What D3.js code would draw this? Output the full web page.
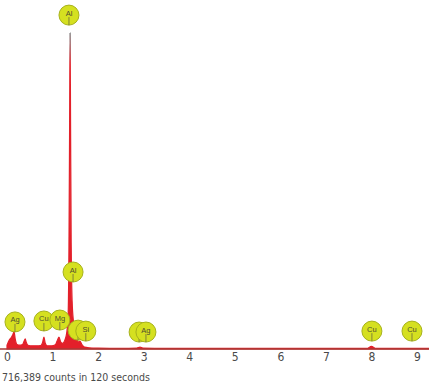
<!DOCTYPE html>
<html>
<head>
<meta charset="utf-8">
<script src="https://cdn.jsdelivr.net/npm/d3@7"></script>
<style>
  body { margin: 0; background: #fff; }
  svg { display: block; }
  .tick text { font-family: "DejaVu Sans", sans-serif; font-stretch: condensed; font-size: 12px; fill: #4a4a4a; }
  .note { font-family: "DejaVu Sans", sans-serif; font-stretch: condensed; font-size: 11px; fill: #4a4a4a; }
  .tag text { font-family: "Liberation Sans", Arial, sans-serif; font-size: 7.5px; fill: #4e4e30; }
</style>
</head>
<body>
<svg id="chart"></svg>
<script>
// spectrum: energy (keV) and relative counts (Al peak = 1000)
const energy = [0.00, 0.05, 0.10, 0.13, 0.155, 0.18, 0.22, 0.28, 0.34, 0.38, 0.40, 0.42, 0.46,
  0.55, 0.65, 0.74, 0.78, 0.81, 0.84, 0.88, 0.98, 1.06, 1.10, 1.14, 1.18, 1.22, 1.27, 1.31,
  1.34, 1.36, 1.375, 1.385, 1.395, 1.41, 1.43, 1.46, 1.50, 1.54, 1.57, 1.60, 1.64, 1.70, 1.80,
  2.0, 2.5, 2.85, 2.92, 2.98, 3.5, 5.0, 7.9, 8.0, 8.1, 9.3];
const counts = [12, 28, 38, 46, 55, 32, 14, 12, 14, 26, 32, 22, 12,
  10, 10, 11, 20, 38, 18, 10, 10, 13, 25, 38, 22, 18, 28, 50,
  100, 320, 720, 1000, 720, 320, 150, 85, 50, 30, 22, 25, 15, 6, 4,
  3, 2, 3, 6, 3, 2, 2, 2, 8, 2, 2];

// element tags: symbol, energy of the tag and the count level its stem points to
const tagNames = ["Al", "Al", "Ag", "Cu", "Mg", "", "Si", "", "Ag", "Cu", "Cu"];
const tagEnergy = [1.36, 1.45, 0.175, 0.81, 1.16, 1.56, 1.73, 2.90, 3.05, 8.01, 8.89];
const tagLevel = [1025, 212, 54, 57, 60, 28, 25, 22, 22, 25, 25];

const xTicks = [0, 1, 2, 3, 4, 5, 6, 7, 8, 9];
const note = "716,389 counts in 120 seconds";

const width = 429, height = 386;
const baseY = 349;

const svg = d3.select("#chart")
    .attr("width", width)
    .attr("height", height);

const x = d3.scaleLinear().domain([0, 9]).range([7, 417]);
const y = d3.scaleLinear().domain([0, 1000]).range([baseY, 33]);

const data = energy.map((e, i) => ({ e: e, c: counts[i] }));

// grey tip on the tall peak
const grad = svg.append("defs").append("linearGradient")
    .attr("id", "peakFill")
    .attr("gradientUnits", "userSpaceOnUse")
    .attr("x1", 0).attr("x2", 0)
    .attr("y1", y(1000)).attr("y2", y(900));
grad.append("stop").attr("offset", 0).attr("stop-color", "#6e6e6e");
grad.append("stop").attr("offset", 1).attr("stop-color", "#e3202a");

const area = d3.area()
    .x(d => x(d.e))
    .y0(baseY)
    .y1(d => y(d.c))
    .curve(d3.curveMonotoneX);

svg.append("path")
    .datum(data)
    .attr("d", area)
    .attr("fill", "url(#peakFill)")
    .attr("stroke", "url(#peakFill)")
    .attr("stroke-width", 1.2);

// baseline
svg.append("line")
    .attr("x1", 0).attr("x2", width)
    .attr("y1", baseY).attr("y2", baseY)
    .attr("stroke", "#a83a36")
    .attr("stroke-width", 1.5);

const xAxis = d3.axisBottom(x)
    .tickValues(xTicks)
    .tickFormat(d3.format("d"))
    .tickSize(0)
    .tickPadding(3);

const gx = svg.append("g")
    .attr("transform", `translate(0,${baseY})`)
    .call(xAxis);
gx.select(".domain").remove();

// element tags
const r = 10;
const tags = svg.selectAll(".tag")
    .data(tagNames.map((n, i) => ({ n: n, e: tagEnergy[i], lv: tagLevel[i] })))
    .enter().append("g")
    .attr("class", "tag")
    .attr("transform", d => `translate(${x(d.e)},${y(d.lv) - r})`);

tags.append("circle")
    .attr("r", r)
    .attr("fill", "#d5e020")
    .attr("stroke", "#a7b21c")
    .attr("stroke-width", 1);

tags.append("line")
    .attr("x1", 0).attr("x2", 0)
    .attr("y1", 2).attr("y2", r)
    .attr("stroke", "#6b6b40")
    .attr("stroke-width", 0.8);

tags.append("text")
    .attr("text-anchor", "middle")
    .attr("y", 0.5)
    .text(d => d.n);

svg.append("text")
    .attr("class", "note")
    .attr("x", 2)
    .attr("y", 381)
    .attr("textLength", 148)
    .attr("lengthAdjust", "spacingAndGlyphs")
    .text(note);
</script>
</body>
</html>
